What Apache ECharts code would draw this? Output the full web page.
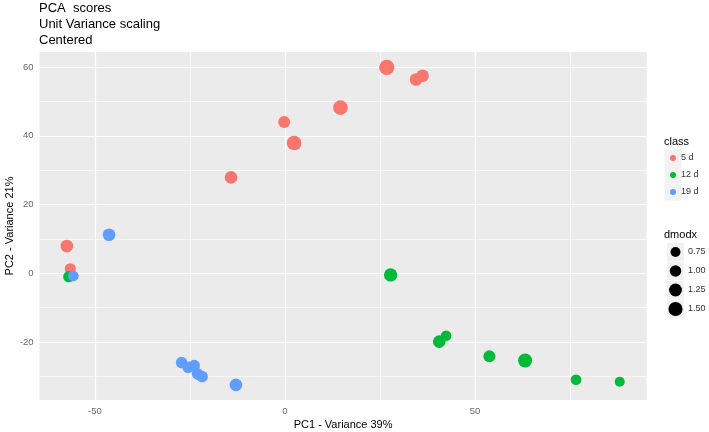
<!DOCTYPE html>
<html><head><meta charset="utf-8">
<script src="https://cdn.jsdelivr.net/npm/echarts@6/dist/echarts.min.js"></script>
<style>html,body{margin:0;padding:0;background:#fff}#c{width:709px;height:432px}</style>
</head><body><div id="c"></div>
<script>
const titleLines = ['PCA  scores', 'Unit Variance scaling', 'Centered'];
const xName = 'PC1 - Variance 39%';
const yName = 'PC2 - Variance 21%';
const classes = ['5 d', '12 d', '19 d'];
const colors = ['#F8766D', '#00BA38', '#619CFF'];

const pc1_5d = [26.8, 34.5, 36.2, 14.6, -0.2, 2.4, -14.2, -57.4, -56.5];
const pc2_5d = [59.9, 56.4, 57.5, 48.2, 44.0, 37.9, 27.9, 7.9, 1.3];
const dmodx_5d = [1.75, 1.2, 1.2, 1.6, 1.08, 1.6, 1.2, 1.2, 0.95];

const pc1_12d = [-56.9, 27.8, 40.6, 42.4, 53.8, 63.2, 76.6, 88.1];
const pc2_12d = [-1.0, -0.5, -19.9, -18.2, -24.2, -25.4, -31.0, -31.6];
const dmodx_12d = [0.95, 1.33, 1.2, 0.86, 1.08, 1.47, 0.86, 0.75];

const pc1_19d = [-46.3, -55.7, -27.2, -25.5, -23.9, -23.0, -21.8, -12.9];
const pc2_19d = [11.2, -0.8, -26.0, -27.4, -26.9, -29.3, -30.1, -32.5];
const dmodx_19d = [1.2, 0.86, 1.0, 1.0, 1.0, 1.0, 1.0, 1.2];

const xTicks = [-50, 0, 50];
const yTicks = [-20, 0, 20, 40, 60];
const xMinor = [-25, 25, 75];
const yMinor = [-30, -10, 10, 30, 50];
const sizeBreaks = [0.75, 1.00, 1.25, 1.50];
const sizeLabels = ['0.75', '1.00', '1.25', '1.50'];

const FONT = 'Liberation Sans, Arial, sans-serif';
const sz = v => 11.55 * Math.sqrt(v);

const groups = [[pc1_5d, pc2_5d, dmodx_5d], [pc1_12d, pc2_12d, dmodx_12d], [pc1_19d, pc2_19d, dmodx_19d]];

const chart = echarts.init(document.getElementById('c'), null, {renderer: 'canvas'});

const gridLines = [];
xTicks.forEach(v => gridLines.push({xAxis: v, lineStyle: {width: 1.2}}));
yTicks.forEach(v => gridLines.push({yAxis: v, lineStyle: {width: 1.2}}));
xMinor.forEach(v => gridLines.push({xAxis: v, lineStyle: {width: 0.6}}));
yMinor.forEach(v => gridLines.push({yAxis: v, lineStyle: {width: 0.6}}));

const series = [{
  type: 'scatter', name: '_grid', data: [], z: 1, silent: true,
  markLine: {
    silent: true, symbol: ['none', 'none'], animation: false, z: 1,
    label: {show: false},
    emphasis: {disabled: true},
    lineStyle: {color: '#ffffff', type: 'solid'},
    data: gridLines
  }
}];
groups.forEach((g, i) => {
  series.push({
    type: 'scatter', name: classes[i], z: 10 + i,
    data: g[0].map((x, j) => [x, g[1][j], g[2][j]]),
    symbolSize: val => sz(val[2]),
    itemStyle: {color: colors[i], opacity: 1},
    emphasis: {disabled: true}, animation: false
  });
});

const graphic = [];
graphic.push({type: 'text', left: 664, top: 136, style: {text: 'class', font: '11px ' + FONT, fill: '#000'}});
classes.forEach((c, i) => {
  graphic.push({type: 'rect', shape: {x: 664.5, y: 149.5 + 17 * i, width: 17, height: 17}, style: {fill: '#F2F2F2'}, z: 0});
});
graphic.push({type: 'text', left: 664, top: 229, style: {text: 'dmodx', font: '11px ' + FONT, fill: '#000'}});
sizeBreaks.forEach((v, i) => {
  const cy = 252 + 19 * i;
  graphic.push({type: 'rect', shape: {x: 667, y: cy - 9.25, width: 17, height: 18.5}, style: {fill: '#F2F2F2'}, z: 0});
  graphic.push({type: 'circle', shape: {cx: 675.5, cy: cy, r: sz(v) / 2}, style: {fill: '#000'}, z: 1});
  graphic.push({type: 'text', x: 688, y: cy, style: {text: sizeLabels[i], font: '9px ' + FONT, fill: '#333', verticalAlign: 'middle'}, z: 1});
});

chart.setOption({
  animation: false,
  backgroundColor: '#ffffff',
  title: {
    text: titleLines.join('\n'), left: 39, top: 0, padding: 0,
    textStyle: {fontSize: 13, lineHeight: 16, fontWeight: 'normal', color: '#000', fontFamily: FONT}
  },
  grid: {left: 39.5, right: 62.3, top: 52, bottom: 32, show: true, backgroundColor: '#EBEBEB', borderWidth: 0, containLabel: false, outerBoundsMode: 'none'},
  xAxis: {
    type: 'value', min: -64.6, max: 95.2,
    axisLine: {show: false},
    axisTick: {show: true, customValues: xTicks, length: 4, lineStyle: {color: '#333', width: 1}},
    axisLabel: {customValues: xTicks, color: '#666', fontSize: 9.5, margin: 6, fontFamily: FONT},
    splitLine: {show: false},
    name: xName, nameLocation: 'middle', nameGap: 19, nameMoveOverlap: false,
    nameTextStyle: {color: '#000', fontSize: 11, fontFamily: FONT}
  },
  yAxis: {
    type: 'value', min: -36.9, max: 64.4,
    axisLine: {show: false},
    axisTick: {show: true, customValues: yTicks, length: 4, lineStyle: {color: '#333', width: 1}},
    axisLabel: {customValues: yTicks, color: '#666', fontSize: 9.5, margin: 6, fontFamily: FONT},
    splitLine: {show: false},
    name: yName, nameLocation: 'middle', nameGap: 24, nameMoveOverlap: false,
    nameTextStyle: {color: '#000', fontSize: 11, fontFamily: FONT}
  },
  legend: {
    data: classes, orient: 'vertical', left: 670, top: 149.5, padding: 0,
    itemWidth: 6, itemHeight: 6, itemGap: 0, icon: 'circle', selectedMode: false,
    textStyle: {fontSize: 9, color: '#333', lineHeight: 17, fontFamily: FONT}
  },
  tooltip: {show: false},
  graphic: graphic,
  series: series
});
</script></body></html>
